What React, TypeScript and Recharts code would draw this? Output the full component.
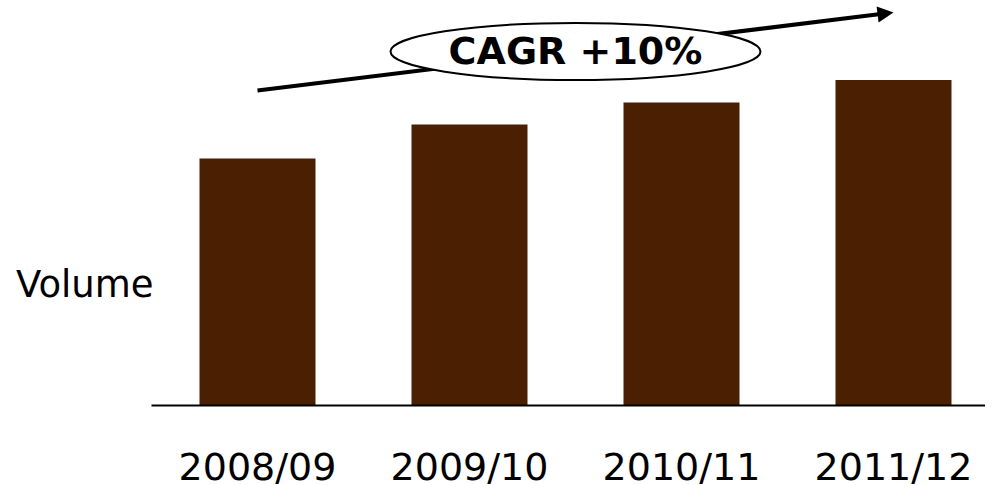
import { BarChart, Bar, XAxis, YAxis, ReferenceLine } from "recharts";

// seasons and volumes (same unit as the y domain)
const seasons = ["2008/09", "2009/10", "2010/11", "2011/12"];
const volumes = [247, 281, 303, 325.5];

// growth arrow runs from the first season to the last
const trendStart = 315;
const trendEnd = 393;
const trendLabel = "CAGR +10%";
const axisTitle = "Volume";

const BAR_COLOR = "#4a1f02";
const FONT = "'DejaVu Sans', sans-serif";

const data = seasons.map((season, i) => ({ season, volume: volumes[i] }));

function SeasonTick(props: any) {
  const { x, y, payload } = props;
  return (
    <text
      x={x}
      y={y}
      dy={74}
      textAnchor="middle"
      fontFamily={FONT}
      fontSize={38}
      fill="#000"
    >
      {payload.value}
    </text>
  );
}

function TrendArrow(props: any) {
  const { x1, y1, x2, y2 } = props;
  const len = Math.hypot(x2 - x1, y2 - y1);
  const ux = (x2 - x1) / len;
  const uy = (y2 - y1) / len;
  const head = 16;
  const half = 8;
  const bx = x2 - ux * head;
  const by = y2 - uy * head;
  return (
    <g>
      <line
        x1={x1}
        y1={y1}
        x2={bx + ux}
        y2={by + uy}
        stroke="#000"
        strokeWidth={4}
      />
      <polygon
        points={`${x2},${y2} ${bx - uy * half},${by + ux * half} ${bx + uy * half},${by - ux * half}`}
        fill="#000"
      />
    </g>
  );
}

function GrowthBadge(props: any) {
  const vb = props.viewBox || {};
  const cx = vb.x + vb.width / 2;
  const cy = vb.y + vb.height / 2;
  return (
    <g>
      <ellipse cx={cx} cy={cy} rx={185} ry={28.5} fill="#fff" stroke="#000" strokeWidth={2} />
      <text
        x={cx}
        y={cy + 12}
        textAnchor="middle"
        fontFamily={FONT}
        fontWeight="bold"
        fontSize={38}
        fill="#000"
      >
        {trendLabel}
      </text>
    </g>
  );
}

function VolumeTitle() {
  return (
    <text x={16} y={296.5} fontFamily={FONT} fontSize={37} fill="#000">
      {axisTitle}
    </text>
  );
}

export default function App() {
  return (
    <div
      style={{
        position: "absolute",
        left: 0,
        top: 0,
        width: 985,
        height: 485,
        overflow: "hidden",
        background: "#fff",
      }}
    >
      <BarChart
        width={1000}
        height={485}
        data={data}
        margin={{ top: 5.5, right: 0.5, left: 0, bottom: 0 }}
        barCategoryGap={0}
      >
        <YAxis
          width={151.5}
          domain={[0, 400]}
          tick={false}
          axisLine={false}
          tickLine={false}
          label={{ content: VolumeTitle }}
        />
        <XAxis
          dataKey="season"
          height={79.5}
          tickLine={false}
          tickSize={0}
          tickMargin={0}
          axisLine={{ stroke: "#000", strokeWidth: 2 }}
          tick={<SeasonTick />}
          interval={0}
        />
        <Bar dataKey="volume" fill={BAR_COLOR} barSize={116} isAnimationActive={false} />
        <ReferenceLine
          segment={[
            { x: seasons[0], y: trendStart },
            { x: seasons[seasons.length - 1], y: trendEnd },
          ]}
          ifOverflow="visible"
          shape={<TrendArrow />}
          label={<GrowthBadge />}
        />
      </BarChart>
    </div>
  );
}
